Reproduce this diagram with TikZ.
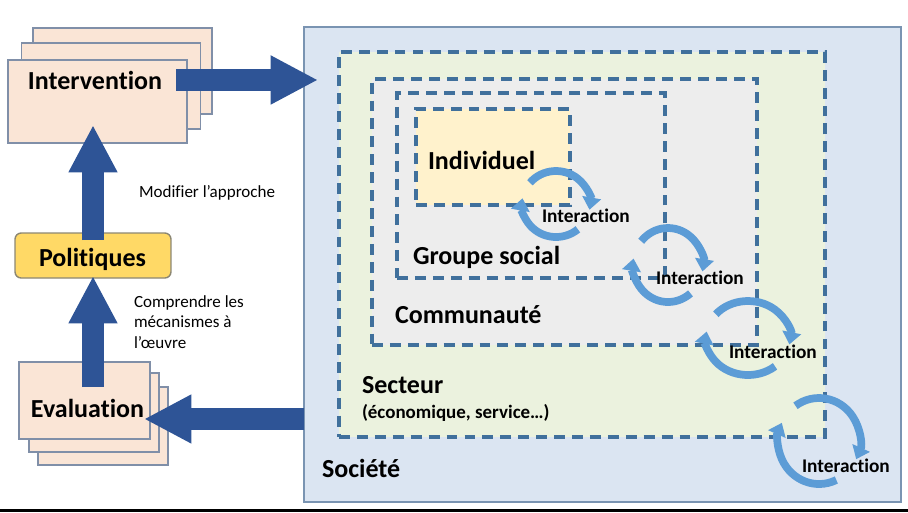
\documentclass[tikz,border=0pt]{standalone}
\usepackage{fontspec}
\setmainfont{Carlito}[Ligatures={NoCommon,NoContextual}]
\usetikzlibrary{arrows.meta}
\definecolor{socfill}{rgb}{0.86, 0.90, 0.95}
\definecolor{socline}{rgb}{0.48, 0.58, 0.70}
\definecolor{sectfill}{rgb}{0.92, 0.95, 0.87}
\definecolor{commfill}{rgb}{0.93, 0.93, 0.93}
\definecolor{indivfill}{rgb}{1.00, 0.95, 0.80}
\definecolor{dashblue}{rgb}{0.25, 0.44, 0.61}
\definecolor{peach}{rgb}{0.98, 0.90, 0.84}
\definecolor{plateline}{rgb}{0.50, 0.56, 0.66}
\definecolor{gold}{rgb}{1.00, 0.85, 0.40}
\definecolor{goldline}{rgb}{0.55, 0.53, 0.45}
\definecolor{navy}{rgb}{0.18, 0.33, 0.59}
\definecolor{loopblue}{rgb}{0.36, 0.61, 0.84}

\begin{document}
\begin{tikzpicture}[x=0.02cm,y=-0.02cm,every node/.style={inner sep=0pt, outer sep=0pt},
  zone/.style={draw=dashblue, line width=1.8pt, dash pattern=on 6.2pt off 4pt},
  plate/.style={draw=plateline, line width=0.8pt, fill=peach},
  bigtext/.style={font=\bfseries\fontsize{14.8}{17}\selectfont, anchor=base west},
  loopword/.style={font=\bfseries\fontsize{11}{13}\selectfont, anchor=base west},
  note/.style={font=\fontsize{9.7}{11.7}\selectfont, align=left},
  bigarrow/.style={navy, line width=12.5pt, -{Triangle[width=26pt,length=27pt]}},
  looparrow/.style={loopblue, line width=4.4pt, -{Triangle[width=10.5pt,length=7pt]}}]

\useasboundingbox (0,0) rectangle (908,512);

\node[draw=socline, line width=0.8pt, fill=socfill, minimum width=11.94cm, minimum height=9.5cm] (soc) at (602.5,264.5) {};
\node[zone, fill=sectfill, minimum width=9.72cm, minimum height=7.7cm] (sect) at (582,244.5) {};
\node[zone, fill=commfill, minimum width=7.7cm, minimum height=5.32cm] (comm) at (564.5,212) {};
\node[zone, fill=commfill, minimum width=5.36cm, minimum height=3.7cm] (grp) at (531,185.5) {};
\node[zone, fill=indivfill, minimum width=3.08cm, minimum height=1.92cm] (indiv) at (493,157) {};

\node[plate, minimum width=3.58cm, minimum height=1.72cm] (intv3) at (122.5,71) {};
\node[plate, minimum width=3.58cm, minimum height=1.72cm] (intv2) at (111,86) {};
\node[plate, minimum width=3.58cm, minimum height=1.66cm] (intv1) at (97.5,101.5) {};

\node[plate, minimum width=2.6cm, minimum height=1.56cm] (eval3) at (103,426) {};
\node[plate, minimum width=2.6cm, minimum height=1.58cm] (eval2) at (94,412.5) {};
\node[plate, minimum width=2.62cm, minimum height=1.54cm] (eval1) at (84.5,400.5) {};

\node[draw=goldline, line width=0.8pt, fill=gold, rounded corners=3.5pt, minimum width=3.12cm, minimum height=0.9cm] (pol) at (93,255.5) {};

\node[bigtext] (intvlabel) at (28,89) {Intervention};
\node[bigtext] (pollabel) at (39,266) {Politiques};
\node[bigtext] (evallabel) at (31,417) {Evaluation};
\node[note, anchor=base west] (modif) at (139,197) {Modifier l’approche};
\node[note, anchor=west] (compr) at (134,322) {Comprendre les\\mécanismes à\\l’œuvre};

\node[bigtext] (indivlabel) at (428,169) {Individuel};
\node[bigtext] (grplabel) at (413,264) {Groupe social};
\node[bigtext] (commlabel) at (395,323) {Communauté};
\node[bigtext] (sectlabel) at (362,393) {Secteur};
\node[font=\bfseries\fontsize{10.8}{13}\selectfont, anchor=base west] (sectsub) at (362,418) {(économique, service…)};
\node[bigtext] (soclabel) at (322,477) {Société};

\draw[bigarrow] ([xshift=0.28cm]intvlabel.east) -- ([xshift=0.28cm]intvlabel.east -| soc.west);
\draw[bigarrow] ([yshift=-0.14cm]pol.north) -- ([yshift=0.36cm]pol.north |- intv1.south);
\draw[bigarrow] ([yshift=-0.5cm]pol.south |- eval1.north) -- ([yshift=0.04cm]pol.south);
\draw[bigarrow] ([yshift=-0.22cm]evallabel.east -| soc.west) -- ([yshift=-0.22cm]evallabel.east);

\foreach \cx/\cy/\rx/\ry/\turn/\tx/\ty [count=\i] in {556/204/34/33/0/542/222, 668/265/35/37/0/656/284, 748/338/42/37/0/729/358, 819/441/41/43/15/802/472} {
  \pgfmathsetmacro{\a}{-140+\turn}
  \pgfmathsetmacro{\b}{50+\turn}
  \coordinate (loop\i) at (\cx,\cy);
  \draw[looparrow] (loop\i) ++({\rx*cos(\a)},{\ry*sin(\a)}) arc[start angle=\a, end angle=\a+150, x radius=\rx, y radius=\ry];
  \draw[looparrow] (loop\i) ++({\rx*cos(\b)},{\ry*sin(\b)}) arc[start angle=\b, end angle=\b+140, x radius=\rx, y radius=\ry];
  \node[loopword] (inter\i) at (\tx,\ty) {Interaction};
}

\draw[line width=1.2pt] (0,510.5) -- (908,510.5);

\end{tikzpicture}
\end{document}
